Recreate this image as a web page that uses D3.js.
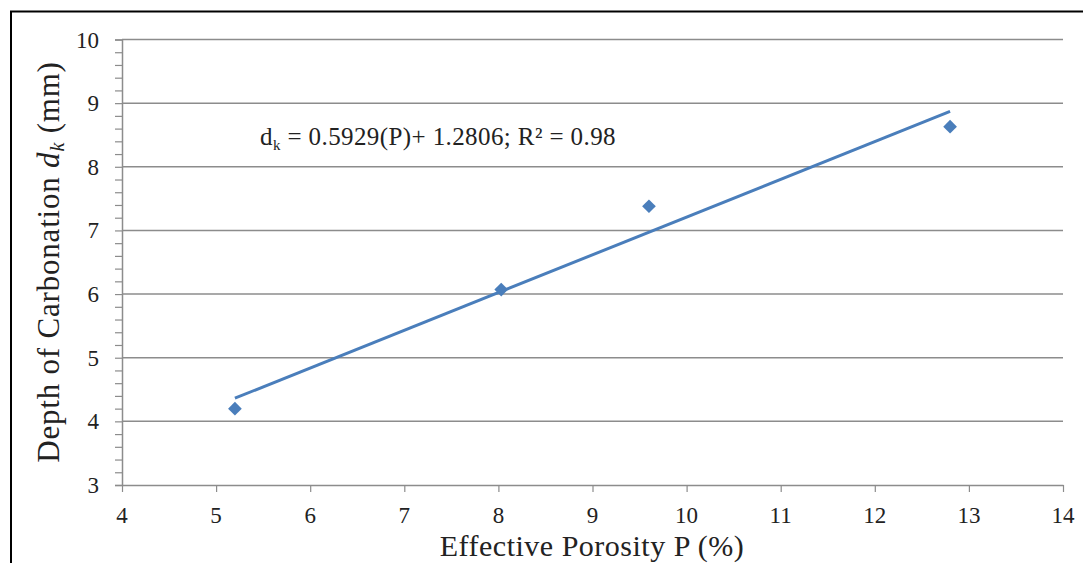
<!DOCTYPE html>
<html><head><meta charset="utf-8">
<script src="https://cdn.jsdelivr.net/npm/d3@7"></script>
<style>
body{margin:0;background:#fff;}
svg{display:block;}
svg text{font-family:"Liberation Serif","DejaVu Serif",serif;}
</style></head>
<body>
<svg id="c" width="1083" height="563"></svg>
<script>
const porosity = [5.2, 8.03, 9.6, 12.8];
const depth = [4.2, 6.07, 7.38, 8.63];
const xTicks = [4,5,6,7,8,9,10,11,12,13,14];
const yTicks = [3,4,5,6,7,8,9,10];
const slope = 0.5929, intercept = 1.2806, r2 = 0.98;

const svg = d3.select("#c");
const x = d3.scaleLinear().domain([4,14]).range([122,1063]);
const y = d3.scaleLinear().domain([3,10]).range([485,39.5]);
const grey = "#8c8c8c";
const serif = "Liberation Serif";

// outer border
svg.append("path").attr("d","M11,563 V11.5 H1083").attr("fill","none").attr("stroke","#000").attr("stroke-width",2);

// gridlines
svg.append("g").selectAll("line").data(yTicks.slice(1)).join("line")
  .attr("x1",x(4)).attr("x2",x(14)).attr("y1",d=>y(d)).attr("y2",d=>y(d))
  .attr("stroke",grey).attr("stroke-width",1.5);

// y axis
const minor = d3.range(3,10.001,0.2);
const yAx = svg.append("g").attr("transform",`translate(${x(4)},0)`)
  .call(d3.axisLeft(y).tickValues(minor).tickSize(7).tickFormat(""));
yAx.select(".domain").attr("stroke",grey).attr("stroke-width",1.5);
yAx.selectAll(".tick line").attr("stroke",grey).attr("stroke-width",1.2);
svg.append("g").selectAll("text").data(yTicks).join("text")
  .attr("x",x(4)-23).attr("y",d=>y(d)).attr("dy","0.35em").attr("text-anchor","end")
  .attr("font-family",serif).attr("font-size",23).attr("fill","#222").text(d=>d);

// x axis
const xAx = svg.append("g").attr("transform",`translate(0,${y(3)})`)
  .call(d3.axisBottom(x).tickValues(xTicks).tickSize(7).tickSizeOuter(0).tickFormat(""));
xAx.select(".domain").attr("stroke",grey).attr("stroke-width",1.5);
xAx.selectAll(".tick line").attr("stroke",grey).attr("stroke-width",1.2);
svg.append("g").selectAll("text").data(xTicks).join("text")
  .attr("x",d=>x(d)).attr("y",y(3)+38).attr("text-anchor","middle")
  .attr("font-family",serif).attr("font-size",23).attr("fill","#222").text(d=>d);

// trendline
const x0 = d3.min(porosity), x1 = d3.max(porosity);
svg.append("line").attr("x1",x(x0)).attr("y1",y(slope*x0+intercept))
  .attr("x2",x(x1)).attr("y2",y(slope*x1+intercept))
  .attr("stroke","#4a7ebb").attr("stroke-width",3);

// markers
svg.append("g").selectAll("path").data(porosity).join("path")
  .attr("transform",(d,i)=>`translate(${x(d)},${y(depth[i])})`)
  .attr("d",d3.symbol().type(d3.symbolDiamond2).size(120))
  .attr("fill","#4a7ebb");

// equation
const eq = svg.append("text").attr("x",260).attr("y",145).attr("font-family",serif)
  .attr("font-size",25).attr("letter-spacing",0.4).attr("fill","#222");
eq.append("tspan").text("d");
eq.append("tspan").attr("font-size",15).attr("dy",5).text("k");
eq.append("tspan").attr("dy",-5).text(` = ${slope}(P)+ ${intercept}; R² = ${r2}`);

// axis titles
svg.append("text").attr("x",592).attr("y",556).attr("text-anchor","middle")
  .attr("font-family",serif).attr("font-size",30).attr("letter-spacing",0.5).attr("fill","#222").text("Effective Porosity P (%)");
const yt = svg.append("text").attr("transform",`translate(59,262) rotate(-90)`)
  .attr("font-family",serif).attr("text-anchor","middle").attr("font-size",31).attr("letter-spacing",0.8).attr("fill","#222");
yt.append("tspan").text("Depth of Carbonation ");
yt.append("tspan").attr("font-style","italic").text("d");
yt.append("tspan").attr("font-style","italic").attr("font-size",20).attr("dy",5).text("k");
yt.append("tspan").attr("dy",-5).text(" (mm)");
</script>
</body></html>
